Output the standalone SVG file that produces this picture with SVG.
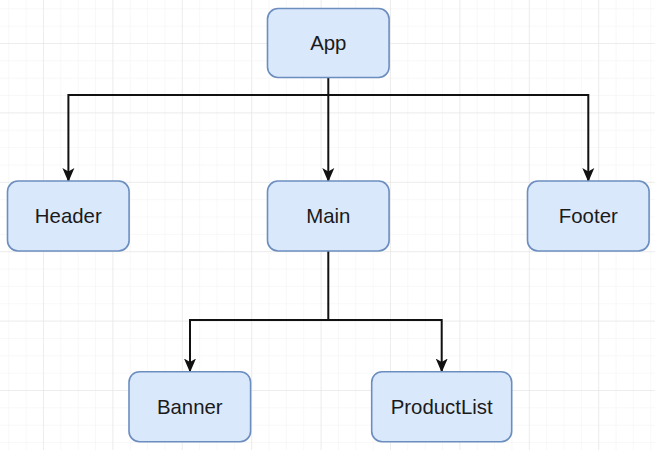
<svg xmlns="http://www.w3.org/2000/svg" width="655" height="450" viewBox="0 0 655 450">
  <defs>
    <pattern id="minor" x="43" y="43" width="17.35" height="17.35" patternUnits="userSpaceOnUse">
      <path d="M0 0 H17.35 M0 0 V17.35" fill="none" stroke="#f1f1f1" stroke-width="1"/>
    </pattern>
    <pattern id="major" x="43" y="43" width="69.4" height="69.4" patternUnits="userSpaceOnUse">
      <path d="M0 0 H69.4 M0 0 V69.4" fill="none" stroke="#e2e2e2" stroke-width="1"/>
    </pattern>
    <marker id="arrow" viewBox="0 0 14 14" refX="13" refY="7" markerWidth="14" markerHeight="14" markerUnits="userSpaceOnUse" orient="auto">
      <path d="M0 1 L14 7 L0 13 L3.5 7 Z" fill="#111"/>
    </marker>
    <style>
      .node rect { fill: #dae8fc; stroke: #6c8ebf; stroke-width: 1.6; }
      .node text { font-family: "Liberation Sans", Arial, sans-serif; font-size: 20.4px; fill: #1a1a1a; text-anchor: middle; }
      .edge { fill: none; stroke: #111; stroke-width: 2; }
    </style>
  </defs>
  <rect width="655" height="450" fill="#ffffff"/>
  <rect width="655" height="450" fill="url(#minor)"/>
  <rect width="655" height="450" fill="url(#major)"/>

  <g id="connectors">
    <path class="edge" d="M328.3 77.5 V95 H68.4 V181" marker-end="url(#arrow)"/>
    <path class="edge" d="M328.3 95 V181" marker-end="url(#arrow)"/>
    <path class="edge" d="M328.3 95 H588.3 V181" marker-end="url(#arrow)"/>
    <path class="edge" d="M328.3 251 V320 H190 V371.5" marker-end="url(#arrow)"/>
    <path class="edge" d="M328.3 320 H441.7 V371.5" marker-end="url(#arrow)"/>
  </g>

  <g id="App" class="node">
    <rect x="267.5" y="8.5" width="121.6" height="69" rx="10.5"/>
    <text x="328.3" y="50">App</text>
  </g>
  <g id="Header" class="node">
    <rect x="7.5" y="181" width="121.6" height="70" rx="10.5"/>
    <text x="68.3" y="223.3">Header</text>
  </g>
  <g id="Main" class="node">
    <rect x="267.5" y="181" width="121.6" height="70" rx="10.5"/>
    <text x="328.3" y="223.3">Main</text>
  </g>
  <g id="Footer" class="node">
    <rect x="527.5" y="181" width="121.6" height="70" rx="10.5"/>
    <text x="588.3" y="223.3">Footer</text>
  </g>
  <g id="Banner" class="node">
    <rect x="129" y="371.7" width="121.6" height="70" rx="10.5"/>
    <text x="189.8" y="414">Banner</text>
  </g>
  <g id="ProductList" class="node">
    <rect x="371.7" y="371.7" width="140" height="70" rx="10.5"/>
    <text x="441.7" y="414">ProductList</text>
  </g>
</svg>
